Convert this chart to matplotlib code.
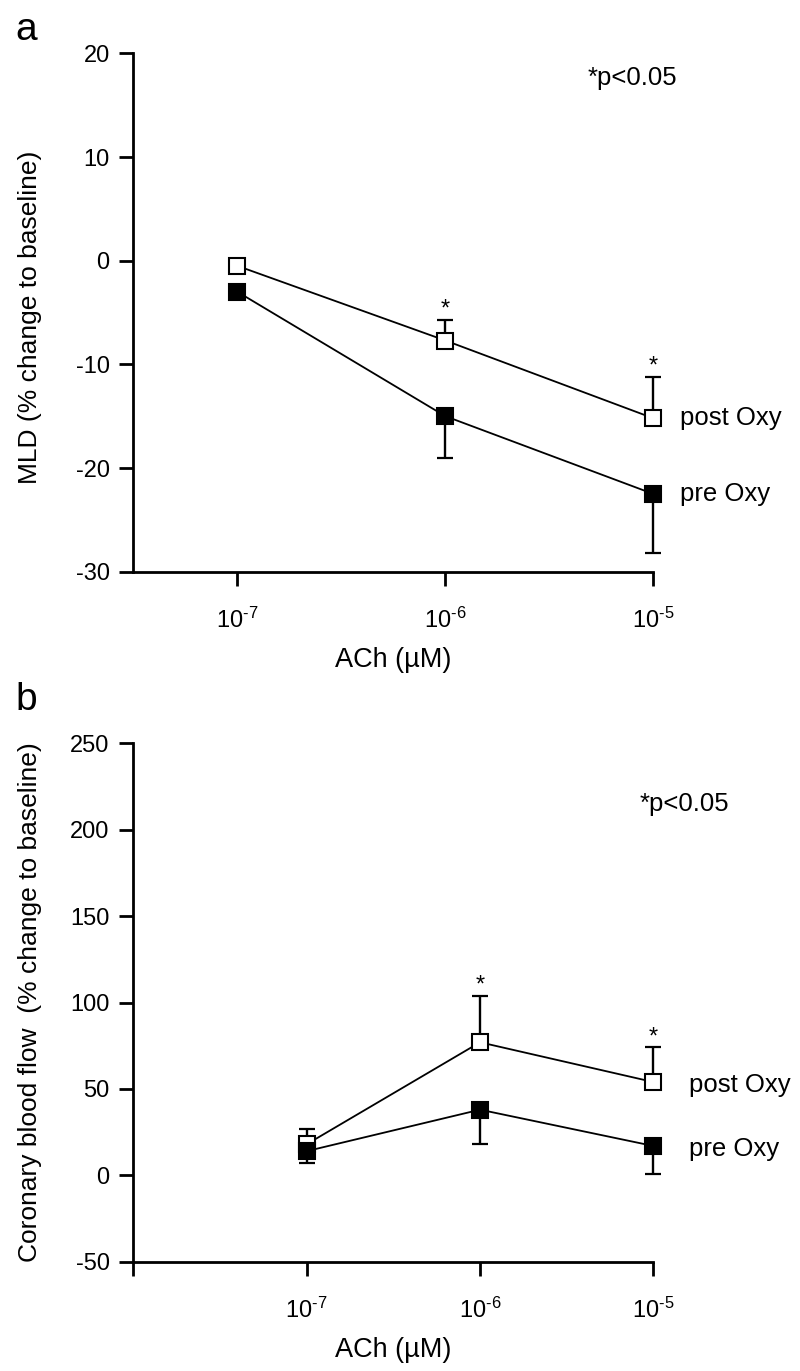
import matplotlib
matplotlib.use('Agg')
import matplotlib.pyplot as plt

plt.rcParams['font.family'] = ['Liberation Sans', 'DejaVu Sans']
plt.rcParams['mathtext.fontset'] = 'custom'
plt.rcParams['mathtext.rm'] = 'Liberation Sans'
plt.rcParams['mathtext.it'] = 'Liberation Sans:italic'
plt.rcParams['axes.unicode_minus'] = False

# ACh doses (categorical positions)
doses = [r'$\mathregular{10^{\text{-}7}}$', r'$\mathregular{10^{\text{-}6}}$',
         r'$\mathregular{10^{\text{-}5}}$']
xpos = [0, 1, 2]

# panel a: MLD (% change to baseline)
mld_pre = [-3.0, -15.0, -22.5]
mld_pre_sem = [0.0, 4.0, 5.7]
mld_post = [-0.5, -7.7, -15.2]
mld_post_sem = [0.0, 2.0, 4.0]
mld_sig = [1, 2]

# panel b: coronary blood flow (% change to baseline)
cbf_pre = [14, 38, 17]
cbf_pre_sem = [6.7, 20, 16]
cbf_post = [18, 77, 54]
cbf_post_sem = [9, 27, 20]
cbf_sig = [1, 2]


def draw_panel(ax, pre, pre_sem, post, post_sem, sig, lab_off):
    zeros = [0] * len(xpos)
    # one-sided error bars: post up, pre down
    for vals, err in [(post, [zeros, post_sem]), (pre, [pre_sem, zeros])]:
        eb = ax.errorbar(xpos, vals, yerr=err, fmt='none', ecolor='black',
                         elinewidth=1.7, capsize=6, capthick=1.6, zorder=2)
        for art in eb.lines[1] + eb.lines[2]:
            art.set_clip_on(False)
    ax.plot(xpos, post, color='black', lw=1.3, marker='s', ms=11.5,
            mfc='white', mec='black', mew=1.5, zorder=3, clip_on=False)
    ax.plot(xpos, pre, color='black', lw=1.3, marker='s', ms=11.5,
            mfc='black', mec='black', mew=1.5, zorder=4, clip_on=False)
    for i in sig:
        ax.annotate('*', xy=(xpos[i], post[i] + post_sem[i]), xytext=(0, 3),
                    textcoords='offset points', ha='center', va='baseline', fontsize=17)
    ax.annotate('post Oxy', xy=(xpos[-1], post[-1]), xytext=lab_off,
                textcoords='offset points', ha='left', va='baseline', fontsize=18.5)
    ax.annotate('pre Oxy', xy=(xpos[-1], pre[-1]), xytext=lab_off,
                textcoords='offset points', ha='left', va='baseline', fontsize=18.5)

    for s in ['top', 'right']:
        ax.spines[s].set_visible(False)
    for s in ['left', 'bottom']:
        ax.spines[s].set_linewidth(2)
    ax.tick_params(direction='out', length=10, width=2, labelsize=17)
    ax.tick_params(axis='y', pad=7)
    ax.tick_params(axis='x', pad=16)


fig = plt.figure(figsize=(8, 13.71), dpi=100)

ax1 = fig.add_axes([0.1667, 0.583, 0.65, 0.3781])
draw_panel(ax1, mld_pre, mld_pre_sem, mld_post, mld_post_sem, mld_sig, (19, -5))
ax1.set_xlim(-0.5, 2)
ax1.set_ylim(-30, 20)
ax1.set_yticks([-30, -20, -10, 0, 10, 20])
ax1.set_xticks(xpos)
ax1.set_xticklabels(doses)
ax1.set_ylabel('MLD (% change to baseline)', fontsize=19)
ax1.yaxis.set_label_coords(-0.175, 0.49)
ax1.set_xlabel('ACh (µM)', fontsize=19.5, labelpad=10)

ax2 = fig.add_axes([0.1667, 0.0797, 0.65, 0.3781])
draw_panel(ax2, cbf_pre, cbf_pre_sem, cbf_post, cbf_post_sem, cbf_sig, (26, -7))
ax2.set_xlim(-1, 2)
ax2.set_ylim(-50, 250)
ax2.set_yticks([-50, 0, 50, 100, 150, 200, 250])
ax2.set_xticks([-1] + xpos)
ax2.set_xticklabels([''] + doses)
ax2.set_ylabel('Coronary blood flow  (% change to baseline)', fontsize=19)
ax2.yaxis.set_label_coords(-0.175, 0.5)
ax2.set_xlabel('ACh (µM)', fontsize=19.5, labelpad=10)

fig.text(588 / 800, 1 - 85 / 1371, '*p<0.05', fontsize=18.5, va='baseline')
fig.text(640 / 800, 1 - 811 / 1371, '*p<0.05', fontsize=18.5, va='baseline')
fig.text(15 / 800, 1 - 40 / 1371, 'a', fontsize=28, va='baseline')
fig.text(15 / 800, 1 - 710 / 1371, 'b', fontsize=28, va='baseline')

fig.savefig('out.png', dpi=100)
